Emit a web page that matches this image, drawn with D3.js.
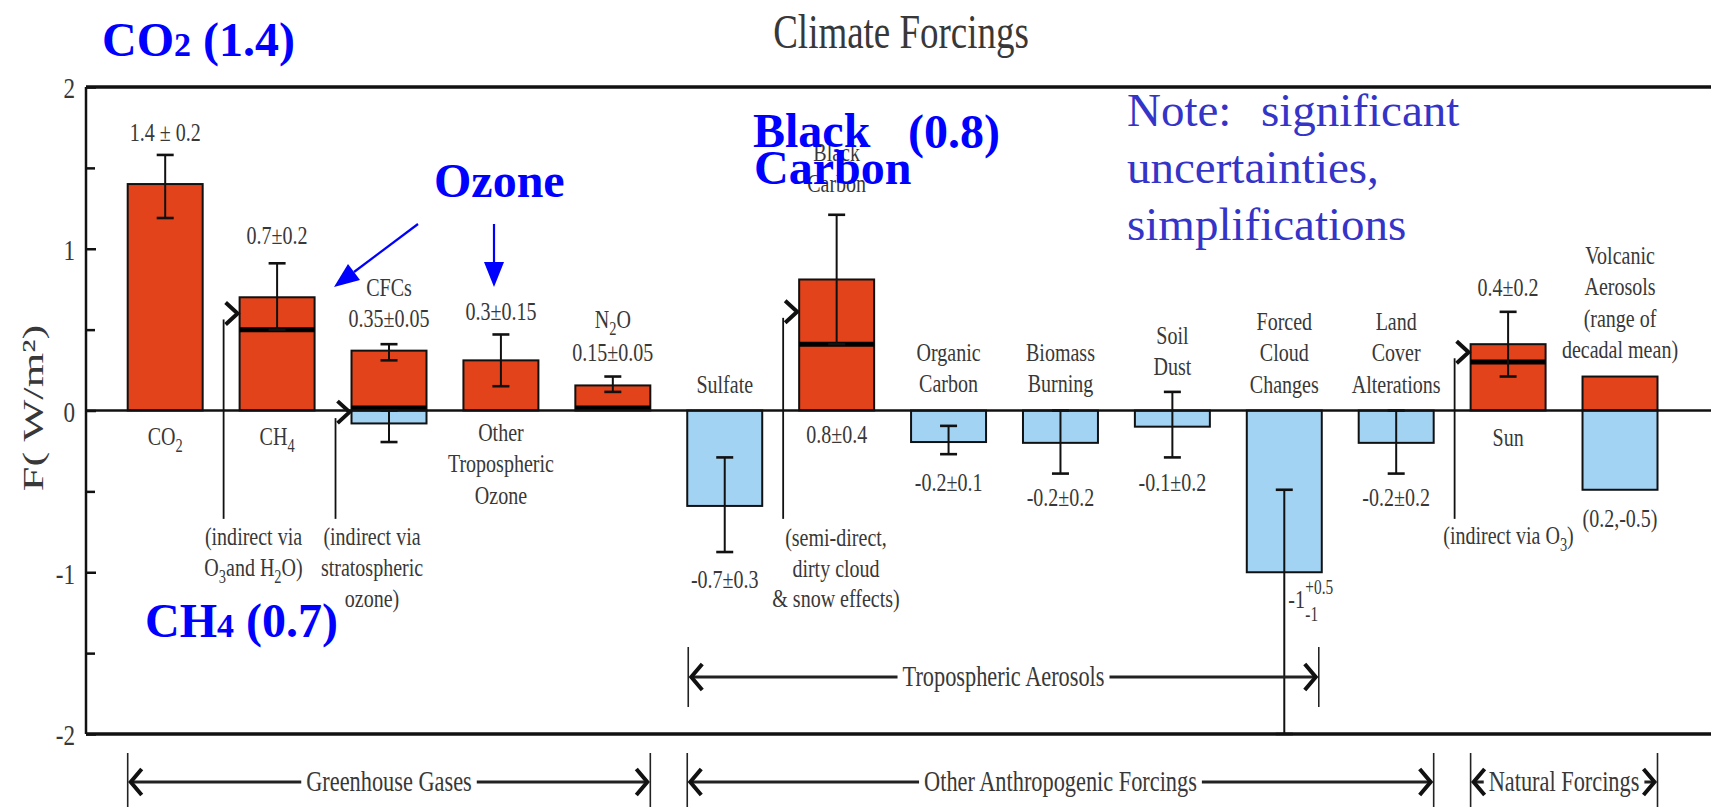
<!DOCTYPE html>
<html><head><meta charset="utf-8">
<script src="https://cdn.jsdelivr.net/npm/d3@7"></script>
<style>html,body{margin:0;padding:0;background:#fff;overflow:hidden}</style>
</head><body><svg id="c" width="1711" height="807"></svg>
<script>
// ---------------- data ----------------
const categories = ["CO2","CH4","CFCs","TropO3","N2O","Sulfate","BlackCarbon","OrganicCarbon","BiomassBurning","SoilDust","ForcedCloud","LandCover","Sun","Volcanic"];
const positiveForcing = [1.4, 0.7, 0.37, 0.31, 0.155, null, 0.81, null, null, null, null, null, 0.41, 0.21];
const negativeForcing = [null, null, -0.08, null, null, -0.59, null, -0.195, -0.2, -0.1, -1.0, -0.2, null, -0.49];
const errorCats = ["CO2","CH4","CFCs","CFCs","TropO3","N2O","Sulfate","BlackCarbon","OrganicCarbon","BiomassBurning","SoilDust","ForcedCloud","LandCover","Sun"];
const errorLow  = [1.19, 0.5, 0.31, -0.195, 0.15, 0.115, -0.875, 0.41, -0.27, -0.39, -0.29, -2.0, -0.39, 0.21];
const errorHigh = [1.58, 0.91, 0.41, 0, 0.47, 0.21, -0.29, 1.21, -0.095, 0, 0.115, -0.49, 0, 0.61];
const splitCats = ["CH4","CFCs","N2O","BlackCarbon","Sun"];
const splitValues = [0.5, 0.015, 0.015, 0.41, 0.3];
const indirectCats = ["CH4","CFCs","BlackCarbon","Sun"];
const indirectTip = [0.6, -0.01, 0.61, 0.36];
const indirectBase = -0.67;
const yTicks = [-2,-1,0,1,2];
const yMinorTicks = [-1.5,-0.5,0.5,1.5];
const valueLabels = ["1.4 ± 0.2","0.7±0.2","0.35±0.05","0.3±0.15","0.15±0.05","-0.7±0.3","0.8±0.4","-0.2±0.1","-0.2±0.2","-0.1±0.2","","-0.2±0.2","0.4±0.2","(0.2,-0.5)"];
const nameLabels = ["CO_{2}","CH_{4}","CFCs","Other|Tropospheric|Ozone","N_{2}O","Sulfate","Black|Carbon","Organic|Carbon","Biomass|Burning","Soil|Dust","Forced|Cloud|Changes","Land|Cover|Alterations","Sun","Volcanic|Aerosols|(range of|decadal mean)"];
const indirectNotes = ["(indirect via|O_{3}and H_{2}O)","(indirect via|stratospheric|ozone)","(semi-direct,|dirty cloud|& snow effects)","(indirect via O_{3})"];
const bracketLabels = ["Greenhouse Gases","Other Anthropogenic Forcings","Natural Forcings","Tropospheric Aerosols"];
const bracketFrom = ["CO2","Sulfate","Sun","Sulfate"];
const bracketTo = ["N2O","LandCover","Volcanic","ForcedCloud"];
const bracketRow = [0,0,0,1];
const titleText = "Climate Forcings";
const yTitle = "F( W/m²)";
const noteLines = ["Note:", "significant", "uncertainties,", "simplifications"];

// ---------------- layout ----------------
const W = 1711, H = 807;
const SERIF = "'Liberation Serif','Times New Roman',Times,serif";
const GRAY = "#383838", RED = "#e2431a", LBLUE = "#a3d3f3", BLUE = "#0000ff", NOTE = "#3434c8";
const SX = 0.77;
const svg = d3.select("#c");
const x = d3.scaleBand().domain(categories).range([127.7, 1657.5]).paddingInner(0.33).paddingOuter(0);
const y = d3.scaleLinear().domain([-2, 2]).range([734, 87]);
const bw = x.bandwidth();
const cx = c => x(c) + bw / 2;
const axisX = 86;

function rich(t, str, size) {
  const parts = str.split(/(_\{[^}]*\}|\^\{[^}]*\})/).filter(s => s.length);
  let cur = 0;
  parts.forEach(p => {
    let sh = 0, fs = size, txt = p;
    if (p.startsWith("_{")) { sh = size * 0.28; fs = size * 0.72; txt = p.slice(2, -1); }
    else if (p.startsWith("^{")) { sh = -size * 0.38; fs = size * 0.72; txt = p.slice(2, -1); }
    const ts = t.append("tspan").attr("font-size", fs).text(txt);
    if (sh - cur !== 0) ts.attr("dy", sh - cur);
    cur = sh;
  });
}
function gtext(parent, px, yb, str, size, opts = {}) {
  const t = parent.append("text")
    .attr("transform", `translate(${px},${yb}) scale(${opts.sx ?? SX},1)`)
    .attr("text-anchor", opts.anchor || "middle")
    .attr("font-family", SERIF).attr("font-size", size)
    .attr("fill", opts.fill || GRAY);
  rich(t, str, size);
  return t;
}
function multiline(parent, px, yb, str, size, lh, opts) {
  str.split("|").forEach((ln, i) => gtext(parent, px, yb + i * lh, ln, size, opts));
}

// ---------------- bars ----------------
const gBars = svg.append("g");
gBars.selectAll("rect.pos")
  .data(categories.map((c, i) => ({ c, v: positiveForcing[i] })).filter(d => d.v != null))
  .join("rect").attr("class", "pos")
  .attr("x", d => x(d.c)).attr("y", d => y(d.v))
  .attr("width", bw).attr("height", d => y(0) - y(d.v))
  .attr("fill", RED).attr("stroke", "#111").attr("stroke-width", 2);
gBars.selectAll("rect.neg")
  .data(categories.map((c, i) => ({ c, v: negativeForcing[i] })).filter(d => d.v != null))
  .join("rect").attr("class", "neg")
  .attr("x", d => x(d.c)).attr("y", y(0))
  .attr("width", bw).attr("height", d => y(d.v) - y(0))
  .attr("fill", LBLUE).attr("stroke", "#111").attr("stroke-width", 2);

gBars.selectAll("line.split")
  .data(splitCats.map((c, i) => ({ c, v: splitValues[i] })))
  .join("line").attr("class", "split")
  .attr("x1", d => x(d.c)).attr("x2", d => x(d.c) + bw)
  .attr("y1", d => y(d.v)).attr("y2", d => y(d.v))
  .attr("stroke", "#000").attr("stroke-width", 5);

// ---------------- axes & frame ----------------
const gAx = svg.append("g");
gAx.append("line").attr("x1", axisX).attr("x2", W).attr("y1", y(0)).attr("y2", y(0)).attr("stroke", "#111").attr("stroke-width", 2.5);
gAx.append("line").attr("x1", axisX).attr("x2", W).attr("y1", y(2)).attr("y2", y(2)).attr("stroke", "#111").attr("stroke-width", 3.5);
gAx.append("line").attr("x1", axisX).attr("x2", W).attr("y1", y(-2)).attr("y2", y(-2)).attr("stroke", "#111").attr("stroke-width", 3.5);
gAx.append("line").attr("x1", axisX).attr("x2", axisX).attr("y1", y(2)).attr("y2", y(-2)).attr("stroke", "#111").attr("stroke-width", 2.5);

const major = gAx.append("g").attr("transform", `translate(${axisX},0)`)
  .call(d3.axisLeft(y).tickValues(yTicks).tickSize(-10).tickSizeOuter(0).tickPadding(10).tickFormat(d => String(d)));
major.select(".domain").remove();
major.selectAll(".tick line").attr("stroke", "#111").attr("stroke-width", 2.5);
major.selectAll(".tick text")
  .attr("font-family", SERIF).attr("font-size", 30).attr("fill", GRAY)
  .attr("transform", `scale(${SX},1)`).attr("x", -11 / SX).attr("dy", "0.36em");
const minor = gAx.append("g").attr("transform", `translate(${axisX},0)`)
  .call(d3.axisLeft(y).tickValues(yMinorTicks).tickSize(-9).tickSizeOuter(0).tickFormat(""));
minor.select(".domain").remove();
minor.selectAll(".tick line").attr("stroke", "#111").attr("stroke-width", 2.5);

svg.append("text")
  .attr("transform", `translate(43,408) rotate(-90) scale(1.48,1)`)
  .attr("text-anchor", "middle").attr("font-family", SERIF).attr("font-size", 30)
  .attr("fill", GRAY).text(yTitle);

gtext(svg, 901, 48, titleText, 48);

// ---------------- error bars ----------------
const gErr = svg.append("g").attr("stroke", "#111");
const errData = errorCats.map((c, i) => ({ c, lo: errorLow[i], hi: errorHigh[i] }));
gErr.selectAll("line.ev").data(errData).join("line")
  .attr("x1", d => cx(d.c)).attr("x2", d => cx(d.c))
  .attr("y1", d => y(d.lo)).attr("y2", d => y(d.hi)).attr("stroke-width", 2);
["lo", "hi"].forEach(k => {
  gErr.selectAll("line.cap" + k).data(errData).join("line")
    .attr("x1", d => cx(d.c) - 8.5).attr("x2", d => cx(d.c) + 8.5)
    .attr("y1", d => y(d[k])).attr("y2", d => y(d[k])).attr("stroke-width", 2.6);
});

// ---------------- indirect-effect pointers ----------------
const gInd = svg.append("g").attr("stroke", "#111").attr("fill", "none");
indirectCats.forEach((c, i) => {
  const ax = x(c) - 16, ty = y(indirectTip[i]);
  gInd.append("line").attr("x1", ax).attr("x2", ax).attr("y1", y(indirectBase)).attr("y2", ty + 6).attr("stroke-width", 1.8);
  gInd.append("path").attr("d", `M${ax + 2},${ty - 11} L${x(c) - 2},${ty} L${ax + 2},${ty + 11}`)
    .attr("stroke-width", 4).attr("stroke-linejoin", "miter");
});

// ---------------- labels ----------------
const gLab = svg.append("g");
const LS = 26, LH = 31.3;
const valueY = [141, 244, 327, 320, 361, 588, 443, 491, 506, 491, null, 506, 296, 527];
const nameY = [445, 445, 296, 441, 328, 393, 161, 361, 361, 344, 330, 330, 446, 264];
categories.forEach((c, i) => {
  if (valueLabels[i]) gtext(gLab, cx(c), valueY[i], valueLabels[i], LS);
  multiline(gLab, cx(c), nameY[i], nameLabels[i], LS, LH);
});
const fcx = cx("ForcedCloud");
gtext(gLab, fcx + 4, 608, "-1", LS, { anchor: "start" });
gtext(gLab, fcx + 21, 594, "+0.5", 20, { anchor: "start" });
gtext(gLab, fcx + 21, 621, "-1", 20, { anchor: "start" });
const noteX = [253.5, 372, 836, 1508.5];
const noteY = [545, 545, 546, 544];
indirectNotes.forEach((n, i) => multiline(gLab, noteX[i], noteY[i], n, LS, i === 1 ? 31 : 30.5));

// ---------------- group brackets ----------------
const gBr = svg.append("g");
const rowY = [782, 677];
const rowTick = [[753, 812], [647, 707]];
bracketLabels.forEach((lab, i) => {
  const x1 = x(bracketFrom[i]) + (i === 3 ? 1 : 0), x2 = x(bracketTo[i]) + bw - (i === 3 ? 3 : 0);
  const ry = rowY[bracketRow[i]], tk = rowTick[bracketRow[i]];
  gBr.append("line").attr("x1", x1 + 3).attr("x2", x2 - 3).attr("y1", ry).attr("y2", ry).attr("stroke", "#222").attr("stroke-width", 3);
  const bg = gBr.append("rect").attr("fill", "#fff");
  const t = gtext(gBr, (x1 + x2) / 2, ry + 9, lab, 29);
  const bb = t.node().getBBox();
  const tw = bb.width * SX;
  bg.attr("x", (x1 + x2) / 2 - tw / 2 - 5).attr("width", tw + 10).attr("y", ry - 12).attr("height", 24);
  gBr.append("line").attr("x1", x1).attr("x2", x1).attr("y1", tk[0]).attr("y2", tk[1]).attr("stroke", "#222").attr("stroke-width", 1.6);
  gBr.append("line").attr("x1", x2).attr("x2", x2).attr("y1", tk[0]).attr("y2", tk[1]).attr("stroke", "#222").attr("stroke-width", 1.6);
  gBr.append("path").attr("d", `M${x1 + 14},${ry - 13} L${x1 + 3},${ry} L${x1 + 14},${ry + 13}`).attr("fill", "none").attr("stroke", "#111").attr("stroke-width", 4);
  gBr.append("path").attr("d", `M${x2 - 14},${ry - 13} L${x2 - 3},${ry} L${x2 - 14},${ry + 13}`).attr("fill", "none").attr("stroke", "#111").attr("stroke-width", 4);
});

// ---------------- blue overlay annotations ----------------
const gBlue = svg.append("g").attr("font-family", SERIF).attr("font-weight", "bold").attr("fill", BLUE);
function blueText(px, yb, parts) {
  const t = gBlue.append("text").attr("x", px).attr("y", yb).attr("font-size", 48);
  parts.forEach(p => t.append("tspan").attr("font-size", p[1]).text(p[0]));
}
blueText(102, 56, [["CO", 48], ["2", 34], ["\u00a0(1.4)", 48]]);
blueText(434, 197, [["Ozone", 48]]);
blueText(753, 147, [["Black", 48]]);
blueText(908, 148, [["(0.8)", 48]]);
blueText(754, 184, [["Carbon", 48]]);
blueText(145, 637, [["CH", 48], ["4", 34], ["\u00a0(0.7)", 48]]);

const gNote = svg.append("text").attr("font-family", SERIF).attr("font-size", 47).attr("fill", NOTE);
gNote.append("tspan").attr("x", 1127).attr("y", 126).text(noteLines[0]);
gNote.append("tspan").attr("x", 1261).attr("y", 126).text(noteLines[1]);
gNote.append("tspan").attr("x", 1127).attr("y", 183).text(noteLines[2]);
gNote.append("tspan").attr("x", 1127).attr("y", 240).text(noteLines[3]);

function blueArrow(x1, y1, x2, y2) {
  const dx = x2 - x1, dy = y2 - y1, L = Math.hypot(dx, dy), ux = dx / L, uy = dy / L;
  const hl = 25, hw = 10, bx = x2 - ux * hl, by = y2 - uy * hl;
  svg.append("line").attr("x1", x1).attr("y1", y1).attr("x2", bx).attr("y2", by).attr("stroke", BLUE).attr("stroke-width", 2.2);
  svg.append("path").attr("d", `M${x2},${y2} L${bx - uy * hw},${by + ux * hw} L${bx + uy * hw},${by - ux * hw} Z`).attr("fill", BLUE);
}
blueArrow(418, 224, 334, 287);
blueArrow(494, 224, 494, 287);
</script></body></html>
